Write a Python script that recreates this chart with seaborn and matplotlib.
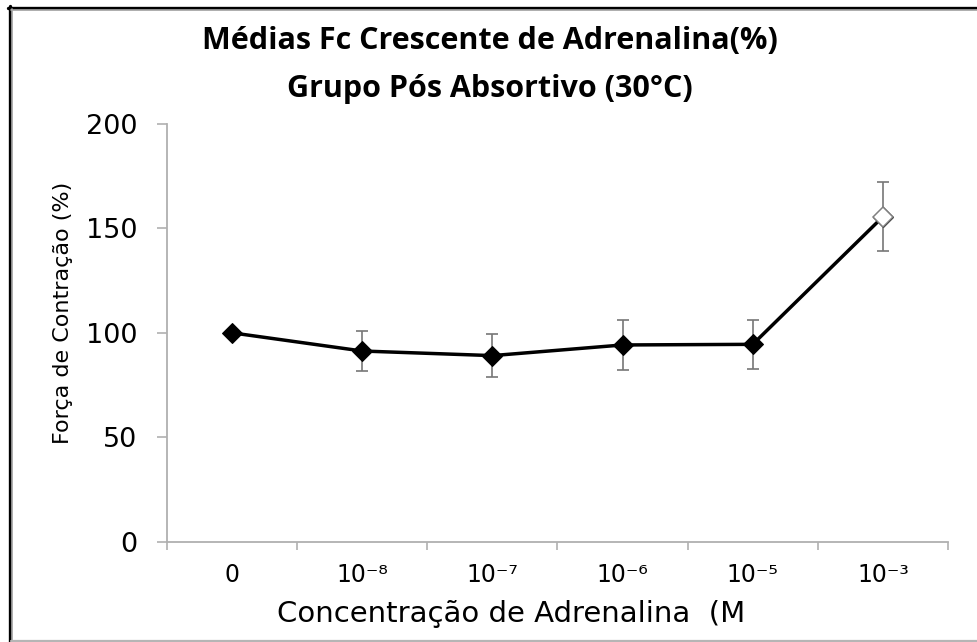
import matplotlib
matplotlib.use("Agg")
import matplotlib.pyplot as plt
from matplotlib.lines import Line2D
import seaborn as sns
import numpy as np
import pandas as pd

# Data: mean contraction force (%) and its error at each adrenaline concentration
categories = ["0", "10⁻⁸", "10⁻⁷", "10⁻⁶", "10⁻⁵", "10⁻³"]
means = [100.0, 91.3, 89.1, 94.2, 94.5, 155.6]
errors = [0.0, 9.8, 10.4, 12.0, 11.7, 16.6]
y_ticks = [0, 50, 100, 150, 200]

title_lines = ["Médias Fc Crescente de Adrenalina(%)", "Grupo Pós Absortivo (30°C)"]
x_label = "Concentração de Adrenalina  (M"
y_label = "Força de Contração (%)"

sns.set_theme(style="white")
plt.rcParams["font.family"] = ["DejaVu Sans"]
plt.rcParams["text.color"] = "black"
plt.rcParams["axes.labelcolor"] = "black"
plt.rcParams["xtick.labelcolor"] = "black"
plt.rcParams["ytick.labelcolor"] = "black"

W, H = 978, 642
fig = plt.figure(figsize=(W / 100, H / 100), dpi=100)
ax = fig.add_axes([167 / W, 1 - 541.7 / H, (948 - 167) / W, (541.7 - 124) / H])

df = pd.DataFrame({"pos": np.arange(len(categories)), "mean": means, "err": errors})

# error bars (grey) underneath the line
ax.errorbar(df["pos"][1:], df["mean"][1:], yerr=df["err"][1:], fmt="none",
            ecolor="#777777", elinewidth=1.2, capsize=4, capthick=1.2, zorder=2)

sns.lineplot(data=df, x="pos", y="mean", ax=ax, color="black", linewidth=2.5,
             marker="D", markersize=10, markeredgecolor="black", zorder=3)

# last point drawn as an open diamond
last = df.iloc[-1]
ax.plot([last["pos"]], [last["mean"]], marker="D", markersize=10, color="white",
        markeredgecolor="#808080", markeredgewidth=1.1, linestyle="none", zorder=4)

ax.set_xlim(-0.5, len(categories) - 0.5)
ax.set_ylim(0, 200)
ax.set_yticks(y_ticks)
ax.set_yticklabels([str(v) for v in y_ticks], fontsize=19.5)

# category boundaries carry the tick marks, centres carry the labels
ax.set_xticks(np.arange(-0.5, len(categories), 1.0))
ax.set_xticklabels([])
ax.set_xticks(np.arange(len(categories)), minor=True)
ax.set_xticklabels(categories, minor=True, fontsize=17)
ax.tick_params(axis="x", which="major", direction="out", length=5.8, width=1.2,
               color="#b0b0b0", bottom=True)
ax.tick_params(axis="x", which="minor", length=0, pad=15)
ax.tick_params(axis="y", direction="out", length=7.2, width=1.2, color="#b0b0b0",
               left=True, pad=14)

for side in ["top", "right"]:
    ax.spines[side].set_visible(False)
for side in ["left", "bottom"]:
    ax.spines[side].set_color("#b0b0b0")
    ax.spines[side].set_linewidth(1.3)

ax.set_xlabel(x_label, fontsize=21, labelpad=10)
ax.xaxis.set_label_coords((511 - 167) / (948 - 167), -(622 - 541.7) / (541.7 - 124))
ax.xaxis.label.set_va("baseline")
ax.set_ylabel(y_label, fontsize=16)
ax.yaxis.set_label_coords(-(167 - 63.5) / (948 - 167), (541.7 - 313) / (541.7 - 124))
ax.yaxis.label.set_va("center")

# two-line bold title
for text, base in zip(title_lines, [48.5, 96.5]):
    fig.text(490 / W, 1 - base / H, text, ha="center", va="baseline",
             fontsize=22, fontweight="bold", family=["Open Sans", "DejaVu Sans"])

# frame around the chart area
def px(x, y):
    return x / W, 1 - y / H

fig.add_artist(Line2D(*zip(px(8, 7.5), px(W, 7.5)), color="black", linewidth=2.4,
                      transform=fig.transFigure))
fig.add_artist(Line2D(*zip(px(9.5, 6), px(9.5, H)), color="black", linewidth=2.4,
                      transform=fig.transFigure))
fig.add_artist(Line2D(*zip(px(11, 10), px(W, 10)), color="#a8a8a8", linewidth=1.2,
                      transform=fig.transFigure))
fig.add_artist(Line2D(*zip(px(12, 9), px(12, H)), color="#a8a8a8", linewidth=1.2,
                      transform=fig.transFigure))
fig.add_artist(Line2D(*zip(px(11, 640.5), px(W, 640.5)), color="#b5b5b5", linewidth=1.6,
                      transform=fig.transFigure))

fig.savefig("out.png", dpi=100)
